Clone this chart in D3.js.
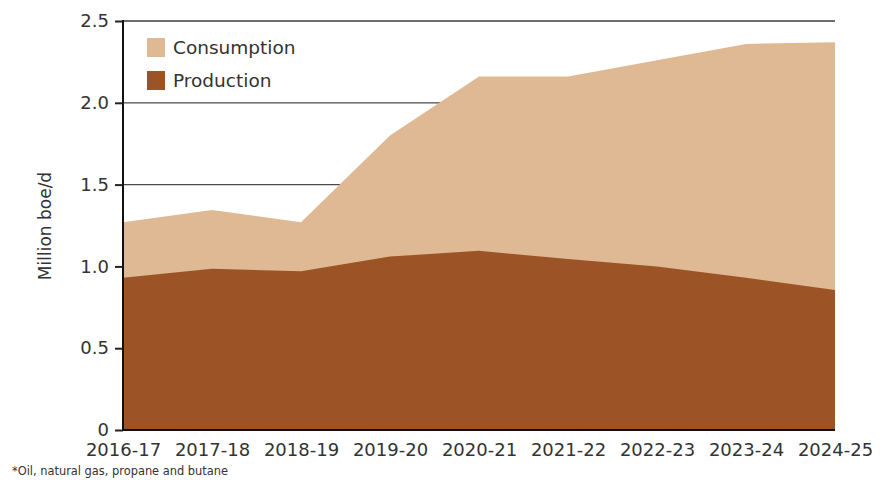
<!DOCTYPE html>
<html><head><meta charset="utf-8">
<script src="https://cdn.jsdelivr.net/npm/d3@7"></script>
<style>body{margin:0;background:#fff}svg{display:block}</style>
</head><body><svg id="c" width="887" height="480"></svg>
<script>
const categories = ["2016-17","2017-18","2018-19","2019-20","2020-21","2021-22","2022-23","2023-24","2024-25"];
const consumption = [1.27,1.345,1.27,1.80,2.16,2.16,2.26,2.36,2.37];
const production = [0.93,0.985,0.97,1.06,1.095,1.045,1.0,0.93,0.855];
const yTicks = [0,0.5,1.0,1.5,2.0,2.5];
const yTickLabels = ["0","0.5","1.0","1.5","2.0","2.5"];
const seriesNames = ["Consumption","Production"];
const colors = ["#dfb993","#9c5426"];

const svg = d3.select("#c");
const L=123, R=835, T=21, B=430;
const x = d3.scalePoint().domain(categories).range([L,R]);
const y = d3.scaleLinear().domain([0,2.5]).range([B,T]);
const font = "DejaVu Sans, sans-serif";

// gridlines
svg.append("g").selectAll("line").data(yTicks.filter(d=>d>0)).join("line")
  .attr("x1",L).attr("x2",R).attr("y1",d=>y(d)).attr("y2",d=>y(d))
  .attr("stroke",d=>d===2.5?"#6e6e6e":"#4a4a4a").attr("stroke-width",d=>d===2.5?2:1.2);

const area = arr => d3.area().x((d,i)=>x(categories[i])).y0(y(0)).y1(d=>y(d))(arr);
svg.append("path").attr("d",area(consumption)).attr("fill",colors[0]);
svg.append("path").attr("d",area(production)).attr("fill",colors[1]);

// y axis
const yAxis = d3.axisLeft(y).tickValues(yTicks).tickFormat((d,i)=>yTickLabels[i]).tickSize(8).tickPadding(6);
const gy = svg.append("g").attr("transform",`translate(${L},0)`).call(yAxis);
gy.select(".domain").attr("stroke","#111").attr("stroke-width",2).attr("d",`M0,${T-1}V${B+1}`);
gy.selectAll(".tick line").attr("stroke","#222").attr("stroke-width",2);
gy.selectAll(".tick text").attr("font-family",font).attr("font-size",18).attr("fill","#333");

// x axis
const xAxis = d3.axisBottom(x).tickSize(0).tickPadding(13);
const gx = svg.append("g").attr("transform",`translate(0,${B})`).call(xAxis);
gx.select(".domain").attr("stroke","#111").attr("stroke-width",2).attr("d",`M${L},0H${R}`);
gx.selectAll(".tick text").attr("font-family",font).attr("font-size",18).attr("fill","#333");

// y title
svg.append("text").attr("transform","translate(51,226) rotate(-90)").attr("text-anchor","middle")
  .attr("font-family",font).attr("font-size",17).attr("fill","#333").text("Million boe/d");

// legend
const lg = svg.append("g");
seriesNames.forEach((n,i)=>{
  lg.append("rect").attr("x",147).attr("y",38+i*33).attr("width",18).attr("height",19).attr("fill",colors[i]);
  lg.append("text").attr("x",173).attr("y",54+i*33).attr("font-family",font).attr("font-size",18.5).attr("fill","#333").text(n);
});

// footnote
svg.append("text").attr("x",12).attr("y",475).attr("font-family","DejaVu Sans Condensed, Liberation Sans Narrow, sans-serif")
  .attr("font-size",12).attr("fill","#333").attr("textLength",216).attr("lengthAdjust","spacingAndGlyphs")
  .text("*Oil, natural gas, propane and butane");
</script></body></html>
